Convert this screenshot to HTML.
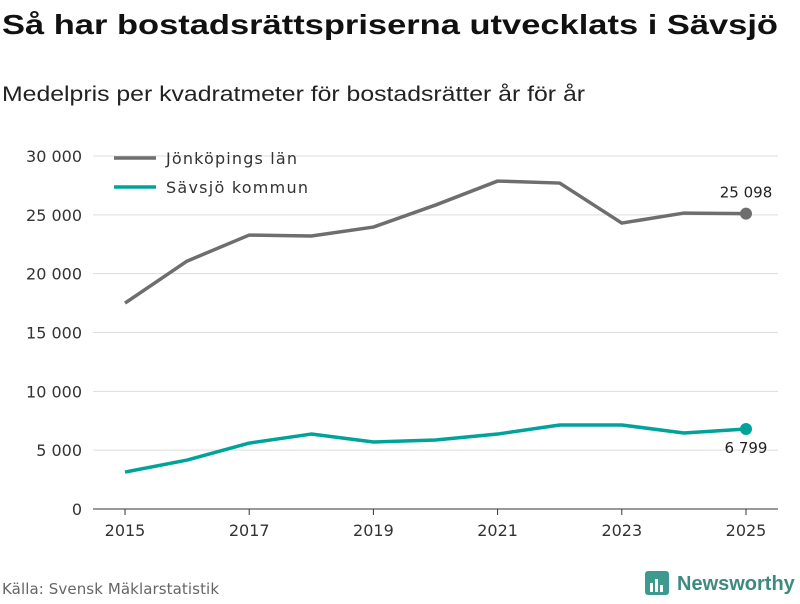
<!DOCTYPE html>
<html><head><meta charset="utf-8"><style>
body{margin:0;background:#fff;font-family:"DejaVu Sans","Liberation Sans",sans-serif;}
</style></head><body>
<svg id="chart" width="800" height="600" xmlns="http://www.w3.org/2000/svg" font-family="DejaVu Sans, Liberation Sans, sans-serif">
<text x="2" y="34" font-size="28" font-weight="bold" fill="#111" textLength="776" lengthAdjust="spacingAndGlyphs" font-family="Liberation Sans, sans-serif">Så har bostadsrättspriserna utvecklats i Sävsjö</text>
<text x="2" y="101" font-size="21" fill="#222" textLength="583" lengthAdjust="spacingAndGlyphs" font-family="Liberation Sans, sans-serif">Medelpris per kvadratmeter för bostadsrätter år för år</text>
<g id="grid"></g>
<g id="series"></g>
<g>
<line x1="114" y1="158" x2="156" y2="158" stroke="#6e6e6e" stroke-width="3.5"/>
<text x="166" y="164" font-size="16" fill="#333" textLength="131">Jönköpings län</text>
<line x1="114" y1="187" x2="156" y2="187" stroke="#00a39a" stroke-width="3.5"/>
<text x="166" y="193" font-size="16" fill="#333" textLength="142">Sävsjö kommun</text>
</g>
<text x="2" y="594" font-size="15" fill="#666" textLength="217">Källa: Svensk Mäklarstatistik</text>
<g>
<rect x="645" y="571" width="24" height="24" rx="3" fill="#3d9a8f"/>
<rect x="650" y="583" width="3" height="9" fill="#fff"/><rect x="655" y="579" width="3" height="13" fill="#fff"/><rect x="660" y="585" width="3" height="7" fill="#fff"/>
<text x="677" y="590" font-size="20" font-weight="bold" fill="#3d8a80" font-family="Liberation Sans, sans-serif">Newsworthy</text>
</g>
</svg>
<script>
const years=[2015,2016,2017,2018,2019,2020,2021,2022,2023,2024,2025];
const jonkoping=[17500,21070,23280,23200,23960,25830,27870,27700,24300,25150,25098];
const savsjo=[3140,4160,5600,6370,5690,5860,6370,7140,7140,6460,6799];
const yTicks=[0,5000,10000,15000,20000,25000,30000];
const xTicks=[2015,2017,2019,2021,2023,2025];
const NS="http://www.w3.org/2000/svg";
const x=v=>125+(v-2015)*62.1;
const y=v=>509-v*353/30000;
const fmt=v=>String(v).replace(/\B(?=(\d{3})+(?!\d))/g,"\u00a0");
function mk(t,a,p){const e=document.createElementNS(NS,t);for(const k in a)e.setAttribute(k,a[k]);p.appendChild(e);return e;}
const g=document.getElementById('grid'),s=document.getElementById('series');
yTicks.forEach(v=>{
 const l=mk('line',{x1:93,x2:778,y1:y(v),y2:y(v),stroke:v===0?'#333':'#ddd','stroke-width':1},g);
 
 
 const t=mk('text',{x:82,y:y(v)+6,'text-anchor':'end','font-size':16,fill:'#333'},g);
 t.textContent=fmt(v);
 
 
});
xTicks.forEach(v=>{
 const l=mk('line',{x1:x(v),x2:x(v),y1:509,y2:515,stroke:'#333'},g);
 
 
 const t=mk('text',{x:x(v),y:536,'text-anchor':'middle','font-size':16,fill:'#333'},g);
 t.textContent=v;
 
 
});
function line(vals,col,name,lblDy){
 const p=mk('polyline',{points:vals.map((v,i)=>x(years[i])+','+y(v)).join(' '),fill:'none',stroke:col,'stroke-width':3.5,'stroke-linejoin':'round'},s);
 
 
 const n=vals.length-1;
 const c=mk('circle',{cx:x(years[n]),cy:y(vals[n]),r:6,fill:col},s);
 
 
 const t=mk('text',{x:x(years[n]),y:y(vals[n])+lblDy,'text-anchor':'middle','font-size':15,fill:'#222'},s);
 t.textContent=fmt(vals[n]);
 
 
}
line(jonkoping,'#6e6e6e','jonkoping',-16);
line(savsjo,'#00a39a','savsjo',24);
</script>
</body></html>
